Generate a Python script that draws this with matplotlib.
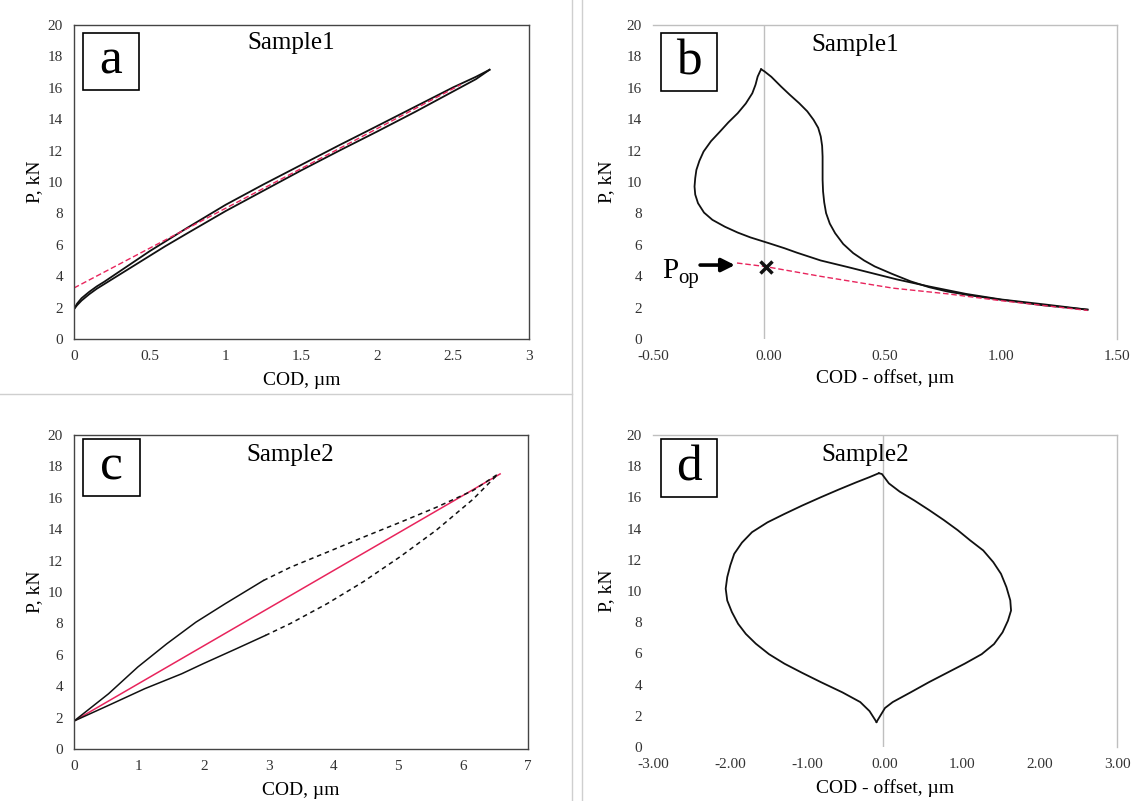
import matplotlib
matplotlib.use("Agg")
import matplotlib.pyplot as plt
from matplotlib.patches import Rectangle
from matplotlib.lines import Line2D

plt.rcParams['font.family'] = ['Liberation Serif', 'DejaVu Serif']

# ---- panel a: Sample1, P vs COD ----
a_x = [0, 0.02, 0.05, 0.1, 0.15, 0.2, 0.3, 0.4, 0.5, 0.6, 0.75, 1.0, 1.25, 1.5,
       1.75, 2.0, 2.25, 2.5, 2.65, 2.74]
a_upper = [1.9, 2.25, 2.6, 3.0, 3.35, 3.65, 4.3, 4.95, 5.6, 6.2, 7.1, 8.55, 9.85, 11.1,
           12.35, 13.57, 14.8, 16.03, 16.7, 17.15]
a_lower = [1.9, 2.15, 2.45, 2.85, 3.2, 3.5, 4.1, 4.7, 5.3, 5.9, 6.75, 8.15, 9.45, 10.75,
           12.0, 13.22, 14.47, 15.77, 16.55, 17.15]
a_fit_x = [0, 2.55]
a_fit_y = [3.25, 16.2]
a_xticks = [0, 0.5, 1, 1.5, 2, 2.5, 3]
a_xticklabels = ['0', '0.5', '1', '1.5', '2', '2.5', '3']

# ---- panel b: Sample1, P vs COD - offset ----
b_load_x = [1.373, 1.2, 1.0, 0.85, 0.689, 0.55, 0.456, 0.34, 0.223, 0.12, 0.067, 0.0,
            -0.026, -0.08, -0.135, -0.19, -0.244, -0.28, -0.306, -0.318, -0.321, -0.318,
            -0.313, -0.3, -0.282, -0.25, -0.212, -0.175, -0.135, -0.1, -0.072, -0.058,
            -0.049, -0.04, -0.034]
b_load_y = [1.87, 2.18, 2.52, 2.87, 3.35, 3.8, 4.15, 4.58, 5.0, 5.5, 5.78, 6.1,
            6.22, 6.47, 6.78, 7.15, 7.59, 8.05, 8.65, 9.2, 9.71, 10.25,
            10.77, 11.35, 11.94, 12.6, 13.2, 13.8, 14.38, 15.0, 15.65, 16.2,
            16.71, 17.0, 17.18]
b_unload_x = [-0.034, -0.02, 0.01, 0.052, 0.09, 0.13, 0.165, 0.192, 0.212, 0.223, 0.229,
              0.231, 0.231, 0.231, 0.233, 0.238, 0.246, 0.262, 0.285, 0.32, 0.363, 0.41,
              0.456, 0.53, 0.611, 0.69, 0.767, 0.88, 1.0, 1.18, 1.373]
b_unload_y = [17.18, 17.05, 16.7, 16.08, 15.55, 15.02, 14.5, 13.96, 13.45, 12.9, 12.3,
              11.62, 10.9, 10.14, 9.4, 8.7, 8.02, 7.35, 6.74, 6.05, 5.47, 5.0,
              4.62, 4.15, 3.67, 3.3, 3.03, 2.75, 2.5, 2.15, 1.87]
b_fit_x = [-0.138, -0.018, 0.223, 0.534, 0.767, 1.0, 1.373]
b_fit_y = [4.84, 4.62, 3.99, 3.24, 2.88, 2.44, 1.82]
b_pop_x = -0.015
b_pop_y = 4.6
b_zero_line = -0.02
b_xticks = [-0.5, 0.0, 0.5, 1.0, 1.5]
b_xticklabels = ['-0.50', '0.00', '0.50', '1.00', '1.50']

# ---- panel c: Sample2, P vs COD ----
c_up_solid_x = [0, 0.533, 0.983, 1.43, 1.88, 2.33, 2.92]
c_up_solid_y = [1.78, 3.52, 5.22, 6.7, 8.08, 9.25, 10.73]
c_up_dash_x = [2.92, 3.34, 3.90, 4.46, 5.03, 5.59, 6.15, 6.54]
c_up_dash_y = [10.73, 11.58, 12.53, 13.49, 14.44, 15.4, 16.46, 17.52]
c_lo_solid_x = [0, 0.533, 1.09, 1.66, 1.99, 2.5, 2.95]
c_lo_solid_y = [1.78, 2.78, 3.84, 4.79, 5.43, 6.38, 7.23]
c_lo_dash_x = [2.95, 3.34, 3.90, 4.46, 5.03, 5.59, 6.15, 6.54]
c_lo_dash_y = [7.23, 8.0, 9.25, 10.65, 12.25, 13.95, 15.9, 17.52]
c_fit_x = [0, 6.57]
c_fit_y = [1.78, 17.52]
c_xticks = [0, 1, 2, 3, 4, 5, 6, 7]
c_xticklabels = ['0', '1', '2', '3', '4', '5', '6', '7']

# ---- panel d: Sample2, P vs COD - offset ----
d_left_x = [-0.11, -0.2, -0.32, -0.55, -0.83, -1.07, -1.30, -1.5, -1.67, -1.8, -1.90,
            -1.98, -2.04, -2.06, -2.04, -2.0, -1.95, -1.85, -1.72, -1.52, -1.30, -1.07,
            -0.83, -0.6, -0.37, -0.2, -0.08]
d_left_y = [1.6, 2.3, 2.88, 3.5, 4.16, 4.75, 5.34, 5.95, 6.62, 7.25, 7.9,
            8.65, 9.39, 10.15, 10.89, 11.65, 12.38, 13.1, 13.77, 14.4, 14.94, 15.48,
            16.01, 16.5, 16.97, 17.3, 17.55]
d_right_x = [-0.08, -0.04, 0.05, 0.19, 0.38, 0.57, 0.76, 0.94, 1.1, 1.27, 1.4, 1.50,
             1.57, 1.62, 1.63, 1.59, 1.52, 1.41, 1.25, 1.03, 0.8, 0.57, 0.33, 0.10,
             0.0, -0.11]
d_right_y = [17.55, 17.5, 16.9, 16.37, 15.8, 15.19, 14.55, 13.9, 13.25, 12.6, 11.85, 11.1,
             10.25, 9.4, 8.75, 8.1, 7.35, 6.6, 5.95, 5.34, 4.75, 4.16, 3.5, 2.88,
             2.5, 1.60]
d_zero_line = -0.03
d_xticks = [-3, -2, -1, 0, 1, 2, 3]
d_xticklabels = ['-3.00', '-2.00', '-1.00', '0.00', '1.00', '2.00', '3.00']

y_ticks = list(range(0, 21, 2))

BLACK = '#111111'
RED = '#e8245c'
GRAY = '#bfbfbf'
TICK_COLOR = '#333333'

fig = plt.figure(figsize=(11.34, 8.01), dpi=100)

# separators between the panels
fig.add_artist(Line2D([0, 572 / 1134], [1 - 394 / 801, 1 - 394 / 801], color='#cfcfcf', lw=1))
fig.add_artist(Line2D([572 / 1134, 572 / 1134], [0, 1], color='#cfcfcf', lw=1))
fig.add_artist(Line2D([582 / 1134, 582 / 1134], [0, 1], color='#cfcfcf', lw=1))

ax_a = fig.add_axes([0.06526, 0.57678, 0.40123, 0.39201])
ax_b = fig.add_axes([0.57584, 0.57678, 0.40917, 0.39201])
ax_c = fig.add_axes([0.06526, 0.06492, 0.40035, 0.39201])
ax_d = fig.add_axes([0.57584, 0.06742, 0.40917, 0.38951])


def style_axes(ax, xlim, xticks, xticklabels, framed, xlabel, ylab_x, xlab_y):
    ax.set_xlim(*xlim)
    ax.set_ylim(0, 20)
    ax.set_xticks(xticks)
    ax.set_xticklabels(xticklabels)
    ax.set_yticks(y_ticks)
    ax.tick_params(length=0, labelsize=11, colors=TICK_COLOR, pad=8)
    for side, sp in ax.spines.items():
        if framed:
            sp.set_color('#444444')
            sp.set_linewidth(1.0)
        elif side in ('top', 'right'):
            sp.set_color(GRAY)
            sp.set_linewidth(1.0)
        else:
            sp.set_visible(False)
    ax.set_xlabel(xlabel, fontsize=14)
    ax.set_ylabel('P, kN', fontsize=14)
    ax.xaxis.set_label_coords(0.5, xlab_y)
    ax.xaxis.label.set_va('center')
    ax.yaxis.set_label_coords(ylab_x, 0.5)
    ax.yaxis.label.set_va('center')


def letter_box(ax, letter, x0, y0, w, h):
    ax.add_patch(Rectangle((x0, y0), w, h, transform=ax.transAxes, fill=False,
                           edgecolor='black', lw=1.2, clip_on=False, zorder=5))
    ax.text(x0 + w / 2, y0 + h / 2, letter, transform=ax.transAxes, fontsize=37,
            ha='center', va='center', zorder=6)


# panel a
style_axes(ax_a, (0, 3), a_xticks, a_xticklabels, True, 'COD, µm', -0.087, -0.131)
ax_a.plot(a_x, a_upper, color=BLACK, lw=1.3)
ax_a.plot(a_x, a_lower, color=BLACK, lw=1.3)
ax_a.plot(a_fit_x, a_fit_y, color=RED, lw=1.0, ls=(0, (4, 2)))
ax_a.text(0.477, 0.943, 'Sample1', transform=ax_a.transAxes, fontsize=18, ha='center', va='center')
letter_box(ax_a, 'a', 0.0198, 0.793, 0.123, 0.1815)

# panel b
style_axes(ax_b, (-0.5, 1.5), b_xticks, b_xticklabels, False, 'COD - offset, µm', -0.101, -0.124)
ax_b.axvline(b_zero_line, color=GRAY, lw=1.0, zorder=1)
ax_b.plot(b_load_x, b_load_y, color=BLACK, lw=1.3)
ax_b.plot(b_unload_x, b_unload_y, color=BLACK, lw=1.3)
ax_b.plot(b_fit_x, b_fit_y, color=RED, lw=1.0, ls=(0, (4, 2)))
ax_b.plot([b_pop_x], [b_pop_y], marker='x', color=BLACK, ms=8, mew=2.5, ls='none')
ax_b.annotate('', xy=(-0.147, 4.71), xytext=(-0.297, 4.71),
              arrowprops=dict(arrowstyle='-|>', color='black', lw=2.6, mutation_scale=20,
                              shrinkA=0, shrinkB=0))
ax_b.text(-0.461, 3.89, 'P', fontsize=21, ha='left', va='baseline')
ax_b.text(-0.392, 3.55, 'op', fontsize=15, ha='left', va='baseline')
ax_b.text(0.435, 0.936, 'Sample1', transform=ax_b.transAxes, fontsize=18, ha='center', va='center')
letter_box(ax_b, 'b', 0.0172, 0.79, 0.1207, 0.185)

# panel c
style_axes(ax_c, (0, 7), c_xticks, c_xticklabels, True, 'COD, µm', -0.087, -0.1306)
ax_c.plot(c_fit_x, c_fit_y, color=RED, lw=1.1)
ax_c.plot(c_up_solid_x, c_up_solid_y, color=BLACK, lw=1.1)
ax_c.plot(c_up_dash_x, c_up_dash_y, color=BLACK, lw=1.1, ls=(0, (3, 2.5)))
ax_c.plot(c_lo_solid_x, c_lo_solid_y, color=BLACK, lw=1.1)
ax_c.plot(c_lo_dash_x, c_lo_dash_y, color=BLACK, lw=1.1, ls=(0, (3, 2.5)))
ax_c.text(0.477, 0.936, 'Sample2', transform=ax_c.transAxes, fontsize=18, ha='center', va='center')
letter_box(ax_c, 'c', 0.0198, 0.806, 0.125, 0.1815)

# panel d
style_axes(ax_d, (-3, 3), d_xticks, d_xticklabels, False, 'COD - offset, µm', -0.101, -0.131)
ax_d.axvline(d_zero_line, color=GRAY, lw=1.0, zorder=1)
ax_d.plot(d_left_x, d_left_y, color=BLACK, lw=1.3)
ax_d.plot(d_right_x, d_right_y, color=BLACK, lw=1.3)
ax_d.text(0.458, 0.936, 'Sample2', transform=ax_d.transAxes, fontsize=18, ha='center', va='center')
letter_box(ax_d, 'd', 0.0172, 0.801, 0.1207, 0.186)

fig.savefig('out.png', dpi=100)
